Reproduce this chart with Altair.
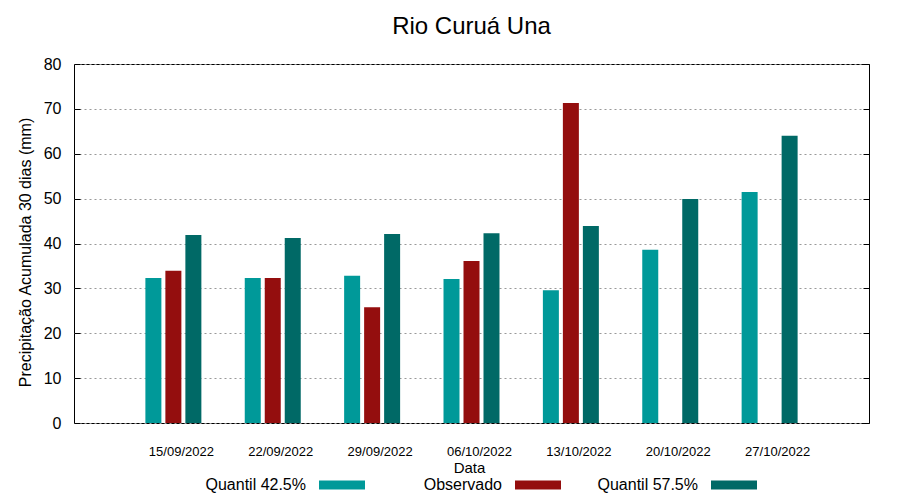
import altair as alt
import pandas as pd

dates = ["15/09/2022", "22/09/2022", "29/09/2022", "06/10/2022",
         "13/10/2022", "20/10/2022", "27/10/2022"]
series = ["Quantil 42.5%", "Observado", "Quantil 57.5%"]
q425 = [32.3, 32.3, 32.8, 32.1, 29.6, 38.6, 51.5]
obs = [33.9, 32.3, 25.8, 36.1, 71.3, None, None]
q575 = [41.9, 41.2, 42.1, 42.3, 43.9, 49.9, 64.0]
colors = ["#009999", "#940E0E", "#006966"]
yticks = [0, 10, 20, 30, 40, 50, 60, 70, 80]

rows = []
for i, d in enumerate(dates):
    for s, vals in zip(series, [q425, obs, q575]):
        if vals[i] is not None:
            rows.append({"Data": d, "Serie": s, "Valor": vals[i]})
df = pd.DataFrame(rows)

FONT = "Liberation Sans"
W, H = 795, 359

yscale = alt.Scale(domain=[0, 80], nice=False, zero=True)

bars = alt.Chart(df).mark_bar(width=16).encode(
    x=alt.X("Data:N", sort=dates,
            scale=alt.Scale(paddingInner=0, paddingOuter=0.5),
            axis=alt.Axis(title="Data", labelAngle=0, ticks=False, domain=False,
                          labelFontSize=13, labelFont=FONT, labelColor="black",
                          labelPadding=22, labelOffset=8,
                          titleFontSize=15, titleFont=FONT, titleFontWeight="normal",
                          titleColor="black", titleBaseline="alphabetic",
                          titleY=49, titleX=395)),
    xOffset=alt.XOffset("Serie:N", sort=series,
                        scale=alt.Scale(domain=series, paddingInner=0.03, paddingOuter=1)),
    y=alt.Y("Valor:Q", scale=yscale,
            axis=alt.Axis(orient="left", values=yticks, ticks=False, domain=False,
                          grid=True, gridDash=[2, 3], gridColor="#999999", gridWidth=1,
                          labelFontSize=16, labelFont=FONT, labelColor="black",
                          labelPadding=13,
                          title="Precipitação Acumulada 30 dias (mm)",
                          titleFontSize=16, titleFont=FONT, titleFontWeight="normal",
                          titleColor="black", titleAngle=270,
                          titleBaseline="alphabetic", titleX=-44, titleY=188)),
    color=alt.Color("Serie:N", sort=series,
                    scale=alt.Scale(domain=series, range=colors),
                    legend=alt.Legend(title=None, orient="none", direction="horizontal",
                                      legendX=245, legendY=398, padding=0,
                                      symbolType="M-1,-0.2H1V0.2H-1Z", symbolSize=2116,
                                      symbolStrokeWidth=0, symbolOpacity=1,
                                      labelFontSize=16, labelFont=FONT, labelColor="black",
                                      labelAlign="right", labelOffset={"expr": "-59"},
                                      columnPadding=36, gridAlign="all")),
)

ticks_left = alt.Chart(df).mark_point(opacity=0).encode(
    y=alt.Y("Valor:Q", scale=yscale,
            axis=alt.Axis(orient="right", offset=-W, values=yticks, ticks=True,
                          tickSize=6, tickColor="black", tickWidth=1,
                          labels=False, domain=False, grid=False, title=None)),
)
ticks_right = alt.Chart(df).mark_point(opacity=0).encode(
    y=alt.Y("Valor:Q", scale=yscale,
            axis=alt.Axis(orient="left", offset=-W, values=yticks, ticks=True,
                          tickSize=6, tickColor="black", tickWidth=1,
                          labels=False, domain=False, grid=False, title=None)),
)

chart = alt.layer(bars, ticks_left, ticks_right).resolve_axis(
    y="independent"
).properties(
    width=W, height=H,
    autosize=alt.AutoSizeParams(type="none"),
    padding={"left": 66, "top": 56, "right": 20, "bottom": 74},
    title=alt.TitleParams("Rio Curuá Una", fontSize=24, font=FONT, fontWeight="normal",
                          color="black", anchor="middle", frame="group",
                          baseline="alphabetic", offset=0, dy=2),
    background="white",
).configure_view(stroke="black", strokeWidth=1)

chart.save("out.html", embed_options={"renderer": "svg", "actions": False})
